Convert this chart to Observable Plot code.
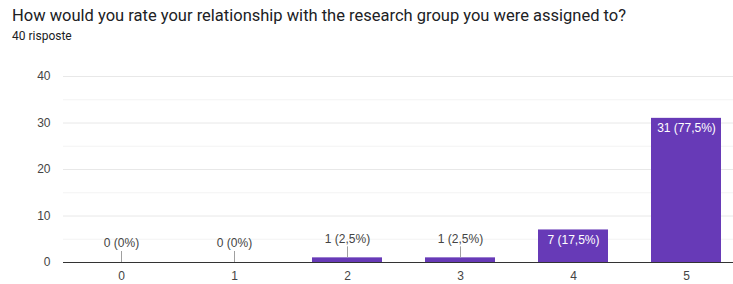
<!DOCTYPE html>
<html>
<head>
<meta charset="utf-8">
<script src="https://cdn.jsdelivr.net/npm/d3@7"></script>
<script src="https://cdn.jsdelivr.net/npm/@observablehq/plot@0.6"></script>
<style>
  html, body { margin: 0; padding: 0; background: #fff; overflow: hidden; width: 733px; height: 284px; }
  #wrap { position: relative; width: 733px; height: 284px; }
  #title { position: absolute; left: 12px; top: 6px; font-family: Roboto, "Liberation Sans", Arial, sans-serif; font-size: 16.5px; line-height: 20px; color: #202124; white-space: nowrap; }
  #subtitle { position: absolute; left: 12px; top: 28px; font-family: Roboto, "Liberation Sans", Arial, sans-serif; font-size: 12px; line-height: 16px; color: #202124; }
  #chart { position: absolute; left: 0; top: 48px; }
</style>
</head>
<body>
<div id="wrap">
  <div id="title">How would you rate your relationship with the research group you were assigned to?</div>
  <div id="subtitle">40 risposte</div>
  <div id="chart"></div>
</div>
<script>
const categories = ["0", "1", "2", "3", "4", "5"];
const counts = [0, 0, 1, 1, 7, 31];
const percents = ["0%", "0%", "2,5%", "2,5%", "17,5%", "77,5%"];
const yTicks = [0, 10, 20, 30, 40];
const minorTicks = [5, 15, 25, 35];

const table = categories.map((c, i) => ({
  cat: c,
  count: counts[i],
  label: `${counts[i]} (${percents[i]})`,
  inside: counts[i] >= 5
}));

const H = 236, mTop = 28, mBottom = 22;
const yMax = 40;
const pxPerUnit = (H - mTop - mBottom) / yMax;
const leader = 11 / pxPerUnit;

const chart = Plot.plot({
  width: 733,
  height: H,
  marginLeft: 63,
  marginRight: 0,
  marginTop: mTop,
  marginBottom: mBottom,
  style: { fontFamily: "'Liberation Sans', Arial, sans-serif", fontSize: "12px", color: "#444", background: "#fff" },
  x: { domain: categories, range: [63, 743], paddingInner: 0.383, paddingOuter: 0.1915, label: null },
  y: { domain: [0, yMax], label: null },
  marks: [
    Plot.ruleY(minorTicks, { stroke: "#f3f3f3" }),
    Plot.ruleY(yTicks.filter(t => t > 0), { stroke: "#e8e8e8" }),
    Plot.barY(table, { x: "cat", y: "count", fill: "#673ab7" }),
    Plot.ruleX(table.filter(d => !d.inside), { x: "cat", y1: "count", y2: d => d.count + leader, stroke: "#a0a0a0" }),
    Plot.text(table.filter(d => !d.inside), { x: "cat", y: "count", text: "label", dy: -19, fill: "#444", fontSize: 12 }),
    Plot.text(table.filter(d => d.inside), { x: "cat", y: "count", text: "label", dy: 10, fill: "#fff", fontSize: 12 }),
    Plot.ruleY([0], { stroke: "#333", strokeWidth: 1.2 }),
    Plot.axisY({ ticks: yTicks, tickSize: 0, tickPadding: 13, fill: "#444", label: null }),
    Plot.axisX({ tickSize: 0, tickPadding: 9, fill: "#444", label: null })
  ]
});
document.getElementById("chart").appendChild(chart);
</script>
</body>
</html>
